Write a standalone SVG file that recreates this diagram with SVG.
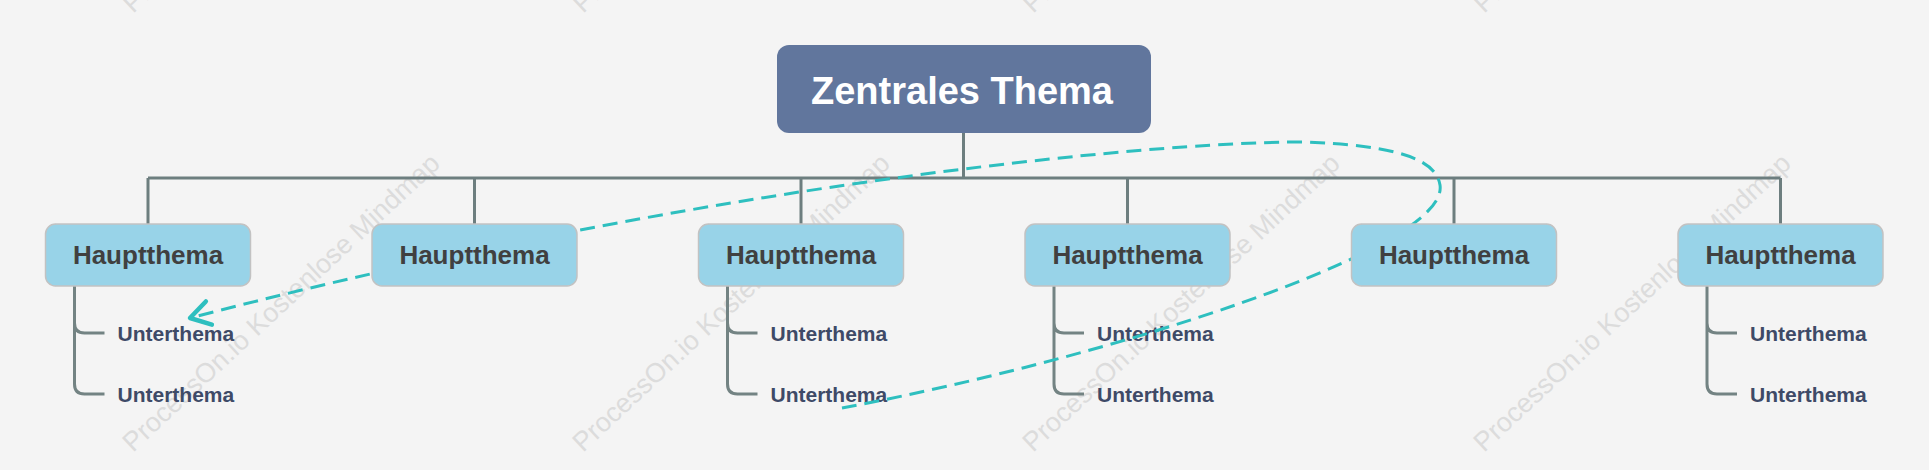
<svg xmlns="http://www.w3.org/2000/svg" width="1929" height="470" viewBox="0 0 1929 470">
<style>
.wm{font-family:"Liberation Sans",Arial,sans-serif;font-size:27px;fill:#DCDCDC}
.main rect{fill:#98D3E8;stroke:#C2C2C2;stroke-width:1.5}
.main text{font-family:"Liberation Sans",Arial,sans-serif;font-weight:bold;font-size:26px;fill:#404040;text-anchor:middle}
.sub text{font-family:"Liberation Sans",Arial,sans-serif;font-weight:bold;font-size:21px;fill:#3E4A67}
.tree{fill:none;stroke:#6D7E7F;stroke-width:3}
.subline{fill:none;stroke:#738383;stroke-width:3}
.rel{fill:none;stroke:#2EBFBF;stroke-width:3;stroke-dasharray:15 8}
</style>
<defs>
<marker id="arr" markerUnits="userSpaceOnUse" markerWidth="30" markerHeight="30" viewBox="-16 -10 20 20" refX="0" refY="0" orient="auto">
<path d="M-13,-8 L0,0 L-13,8" fill="none" stroke="#2EBFBF" stroke-width="3" stroke-linecap="round" stroke-linejoin="round"/>
</marker>
</defs>
<rect x="0" y="0" width="1929" height="470" fill="#F4F4F4"/>
<g id="watermarks">
<text class="wm" x="133" y="453" transform="rotate(-43 133 453)">ProcessOn.io Kostenlose Mindmap</text>
<text class="wm" x="583" y="453" transform="rotate(-43 583 453)">ProcessOn.io Kostenlose Mindmap</text>
<text class="wm" x="1033" y="453" transform="rotate(-43 1033 453)">ProcessOn.io Kostenlose Mindmap</text>
<text class="wm" x="1484" y="453" transform="rotate(-43 1484 453)">ProcessOn.io Kostenlose Mindmap</text>
<text class="wm" x="133" y="14" transform="rotate(-43 133 14)">ProcessOn.io Kostenlose Mindmap</text>
<text class="wm" x="583" y="14" transform="rotate(-43 583 14)">ProcessOn.io Kostenlose Mindmap</text>
<text class="wm" x="1033" y="14" transform="rotate(-43 1033 14)">ProcessOn.io Kostenlose Mindmap</text>
<text class="wm" x="1484" y="14" transform="rotate(-43 1484 14)">ProcessOn.io Kostenlose Mindmap</text>
</g>
<g id="connectors">
<path class="tree" d="M963.5,133 V178 M148,178 H1780.5 M148,178 V224 M474.5,178 V224 M801,178 V224 M1127.5,178 V224 M1454,178 V224 M1780.5,178 V224"/>
<path class="subline" d="M74.5,286 V384 Q74.5,394 84.5,394 H104.5 M74.5,323 Q74.5,333 84.5,333 H104.5"/>
<path class="subline" d="M727.5,286 V384 Q727.5,394 737.5,394 H757.5 M727.5,323 Q727.5,333 737.5,333 H757.5"/>
<path class="subline" d="M1054,286 V384 Q1054,394 1064,394 H1084 M1054,323 Q1054,333 1064,333 H1084"/>
<path class="subline" d="M1707,286 V384 Q1707,394 1717,394 H1737 M1707,323 Q1707,333 1717,333 H1737"/>
</g>
<g id="sub-1" class="sub"><text x="117.5" y="341">Unterthema</text><text x="117.5" y="402">Unterthema</text></g>
<g id="sub-3" class="sub"><text x="770.5" y="341">Unterthema</text><text x="770.5" y="402">Unterthema</text></g>
<g id="sub-4" class="sub"><text x="1097" y="341">Unterthema</text><text x="1097" y="402">Unterthema</text></g>
<g id="sub-6" class="sub"><text x="1750" y="341">Unterthema</text><text x="1750" y="402">Unterthema</text></g>
<g id="relation">
<path class="rel" marker-end="url(#arr)" d="M842,408 C1100,360 1450,250 1440,185 C1436,160 1400,145 1300,142 C1150,142 700,185 190,318"/>
</g>
<g id="central">
<rect x="777" y="45" width="374" height="88" rx="12" fill="#61769D"/>
<text x="962" y="104" font-family="'Liberation Sans',Arial,sans-serif" font-weight="bold" font-size="38" fill="#FFFFFF" text-anchor="middle">Zentrales Thema</text>
</g>
<g id="main-1" class="main"><rect x="45.5" y="224" width="205" height="62" rx="10"/><text x="148" y="264">Hauptthema</text></g>
<g id="main-2" class="main"><rect x="372" y="224" width="205" height="62" rx="10"/><text x="474.5" y="264">Hauptthema</text></g>
<g id="main-3" class="main"><rect x="698.5" y="224" width="205" height="62" rx="10"/><text x="801" y="264">Hauptthema</text></g>
<g id="main-4" class="main"><rect x="1025" y="224" width="205" height="62" rx="10"/><text x="1127.5" y="264">Hauptthema</text></g>
<g id="main-5" class="main"><rect x="1351.5" y="224" width="205" height="62" rx="10"/><text x="1454" y="264">Hauptthema</text></g>
<g id="main-6" class="main"><rect x="1678" y="224" width="205" height="62" rx="10"/><text x="1780.5" y="264">Hauptthema</text></g>
</svg>
